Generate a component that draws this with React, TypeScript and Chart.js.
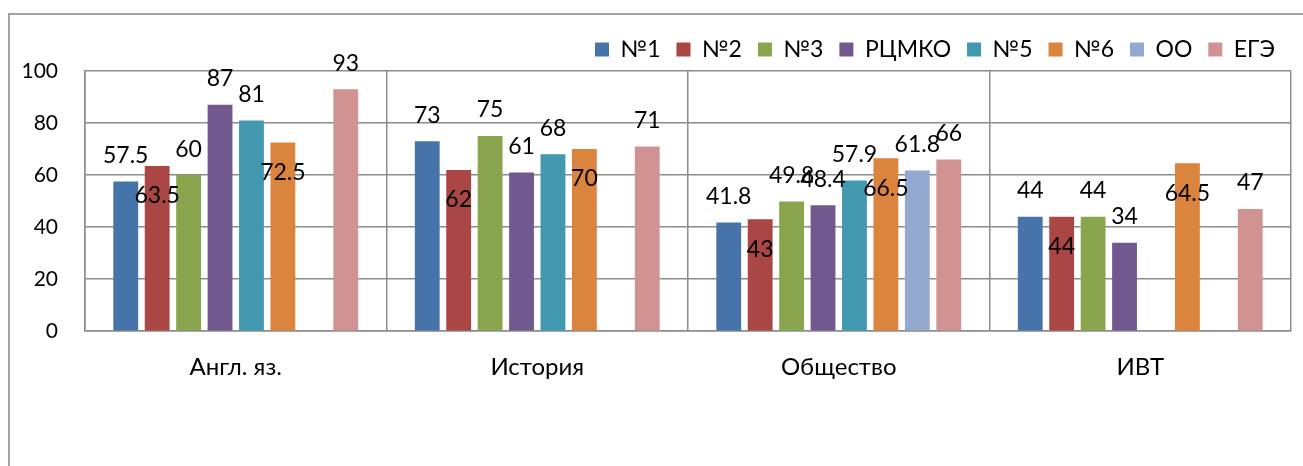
import React, { useEffect, useRef } from "react";
import { Chart, registerables } from "chart.js";

Chart.register(...registerables);

const FONT = "Lato, 'Open Sans', sans-serif";

const categories = ["Англ. яз.", "История", "Общество", "ИВТ"];
const seriesNames = ["№1", "№2", "№3", "РЦМКО", "№5", "№6", "ОО", "ЕГЭ"];
const s1 = [57.5, 73, 41.8, 44];
const s2 = [63.5, 62, 43, 44];
const s3 = [60, 75, 49.8, 44];
const sRcmko = [87, 61, 48.4, 34];
const s5 = [81, 68, 57.9, null];
const s6 = [72.5, 70, 66.5, 64.5];
const sOO = [null, null, 61.8, null];
const sEge = [93, 71, 66, 47];
const yTicks = [0, 20, 40, 60, 80, 100];

const seriesValues = [s1, s2, s3, sRcmko, s5, s6, sOO, sEge];
const colors = ["#4673AA", "#AA4744", "#89A54E", "#71588F", "#4198AF", "#DB843D", "#93A9CF", "#D19392"];
const labelsInside = [false, true, false, false, false, true, false, false];

const GRID = "#8c8c8c";

const valueLabels = {
  id: "valueLabels",
  afterDatasetsDraw(chart: any) {
    const ctx = chart.ctx;
    ctx.save();
    ctx.font = `23px ${FONT}`;
    ctx.fillStyle = "#000";
    ctx.textAlign = "center";
    ctx.textBaseline = "middle";
    chart.data.datasets.forEach((ds: any, i: number) => {
      const meta = chart.getDatasetMeta(i);
      meta.data.forEach((bar: any, j: number) => {
        const v = ds.data[j];
        if (v == null) return;
        const y = labelsInside[i] ? bar.y + 30 : bar.y - 26;
        ctx.fillText(String(v), bar.x, y);
      });
    });
    ctx.restore();
  },
};

export default function App() {
  const ref = useRef<HTMLCanvasElement | null>(null);

  useEffect(() => {
    if (!ref.current) return;
    const chart = new Chart(ref.current, {
      type: "bar",
      data: {
        labels: categories,
        datasets: seriesNames.map((name, i) => ({
          label: name,
          data: seriesValues[i],
          backgroundColor: colors[i],
          borderWidth: 0,
          categoryPercentage: 0.834,
          barPercentage: 0.79,
        })),
      },
      options: {
        animation: false,
        responsive: false,
        devicePixelRatio: 1,
        color: "#000",
        layout: {
          autoPadding: false,
          padding: { left: 21, right: 12, top: 22, bottom: 62 },
        },
        plugins: {
          legend: {
            position: "top",
            align: "end",
            labels: {
              boxWidth: 14,
              boxHeight: 14,
              padding: 16,
              color: "#000",
              font: { family: FONT, size: 23 },
            },
          },
          tooltip: { enabled: false },
        },
        scales: {
          x: {
            offset: true,
            grid: { display: true, offset: true, color: GRID, lineWidth: 1.5, drawTicks: false, tickLength: 0 },
            border: { display: true, color: GRID, width: 1.5 },
            ticks: { color: "#000", padding: 22, maxRotation: 0, font: { family: FONT, size: 24 } },
          },
          y: {
            min: 0,
            max: 100,
            afterBuildTicks: (scale: any) => {
              scale.ticks = yTicks.map((v) => ({ value: v }));
            },
            afterFit: (scale: any) => {
              scale.width = 64;
            },
            grid: { color: GRID, lineWidth: 1.5, drawTicks: false, tickLength: 0 },
            border: { display: true, color: GRID, width: 1.5 },
            ticks: { color: "#000", padding: 27, font: { family: FONT, size: 21 } },
          },
        },
      },
      plugins: [valueLabels],
    });
    return () => chart.destroy();
  }, []);

  return (
    <div
      style={{
        position: "fixed",
        left: 0,
        top: 0,
        width: 1303,
        height: 466,
        overflow: "hidden",
        background: "#fff",
      }}
    >
      <div
        style={{
          position: "absolute",
          left: 8,
          top: 13,
          width: 2000,
          height: 2000,
          border: "2px solid #a3a3a3",
        }}
      />
      <canvas ref={ref} width={1303} height={466} style={{ position: "absolute", left: 0, top: 0 }} />
    </div>
  );
}
